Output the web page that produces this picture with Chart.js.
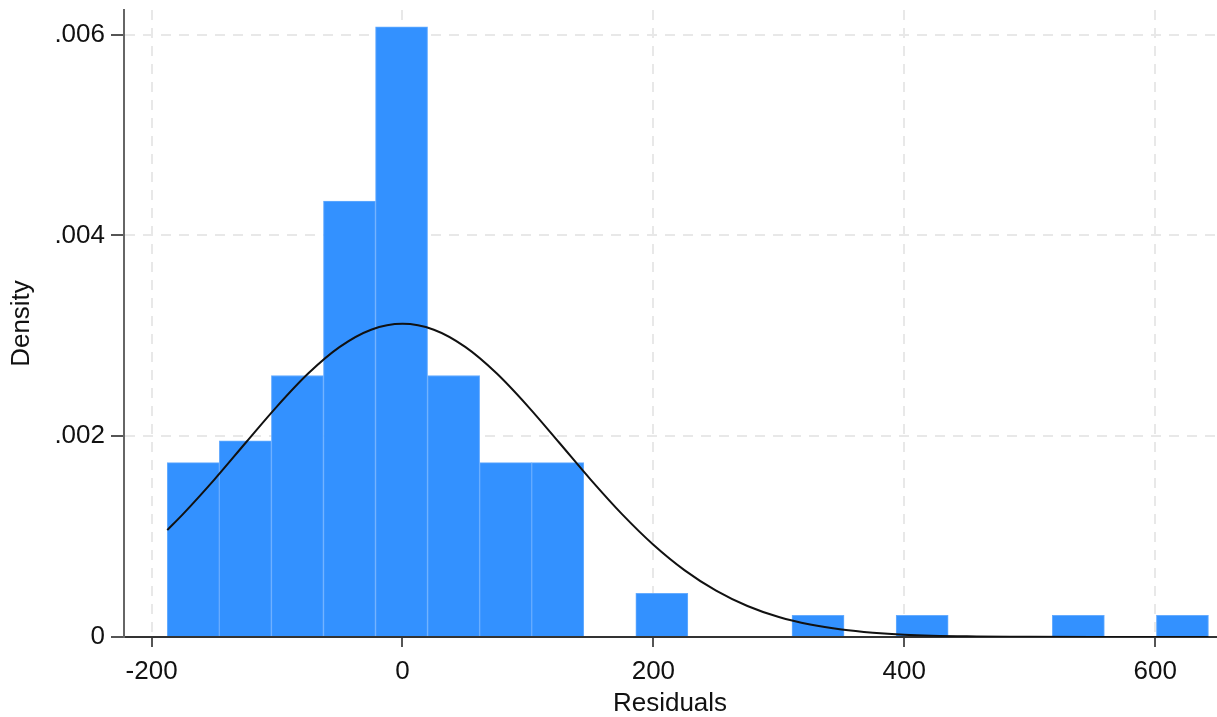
<!DOCTYPE html>
<html>
<head>
<meta charset="utf-8">
<script src="https://cdn.jsdelivr.net/npm/chart.js@4"></script>
<style>
html,body{margin:0;padding:0;background:#fff;}
#wrap{width:1217px;height:717px;}
</style>
</head>
<body>
<div id="wrap"><canvas id="c" width="1217" height="717"></canvas></div>
<script>
// Histogram bin centres (bin width 41.5) and densities
const binCenters = [-166.75, -125.25, -83.75, -42.25, -0.75, 40.75, 82.25, 123.75, 165.25, 206.75,
                    248.25, 289.75, 331.25, 372.75, 414.25, 455.75, 497.25, 538.75, 580.25, 621.75];
const densities  = [0.001737, 0.001954, 0.002605, 0.004342, 0.006079, 0.002605, 0.001737, 0.001737, 0, 0.000434,
                    0, 0, 0.000217, 0, 0.000217, 0, 0, 0.000217, 0, 0.000217];
// Normal density overlay
const curveX = [-187.5, -175, -150, -125, -100, -75, -50, -25, 0, 25, 50, 75, 100, 125, 150, 175,
                200, 225, 250, 275, 300, 325, 350, 375, 400, 450, 500, 550, 600, 642.5];
const curveY = [0.001065, 0.001224, 0.001568, 0.001935, 0.002298, 0.002627, 0.002890, 0.003061, 0.003120,
                0.003061, 0.002890, 0.002627, 0.002298, 0.001935, 0.001568, 0.001224, 0.000919, 0.000664,
                0.000462, 0.000309, 0.000199, 0.000124, 0.0000738, 0.0000424, 0.0000235, 0.0000064,
                0.0000015, 0.0000003, 0, 0];
const xTicks = [-200, 0, 200, 400, 600];
const yTicks = [0, 0.002, 0.004, 0.006];
const yTickLabels = ['0', '.002', '.004', '.006'];

const FONT = 'Liberation Sans, Arial, Helvetica, sans-serif';
const barData = binCenters.map((x, i) => ({x: x, y: densities[i]}));
const lineData = curveX.map((x, i) => ({x: x, y: curveY[i]}));

new Chart(document.getElementById('c'), {
  type: 'bar',
  data: {
    datasets: [
      {
        type: 'line',
        data: lineData,
        borderColor: '#111',
        borderWidth: 2,
        pointRadius: 0,
        fill: false,
        cubicInterpolationMode: 'monotone',
        order: 1
      },
      {
        type: 'bar',
        data: barData,
        backgroundColor: '#3391ff',
        borderColor: '#66acff',
        borderWidth: 1,
        borderSkipped: 'bottom',
        barPercentage: 1,
        categoryPercentage: 1,
        grouped: false,
        order: 2
      }
    ]
  },
  options: {
    responsive: false,
    animation: false,
    devicePixelRatio: 1,
    layout: {padding: {top: 10, right: 1, left: 0, bottom: 0}},
    plugins: {legend: {display: false}, tooltip: {enabled: false}},
    scales: {
      x: {
        type: 'linear',
        offset: false,
        min: -222,
        max: 648.5,
        afterBuildTicks: s => { s.ticks = xTicks.map(v => ({value: v})); },
        afterFit: s => { s.height = 80; s.paddingLeft = 0; s.paddingRight = 0; },
        ticks: {
          font: {family: FONT, size: 26},
          color: '#111',
          padding: 9,
          maxRotation: 0,
          autoSkip: false,
          callback: v => String(v)
        },
        grid: {
          offset: false,
          color: '#e8e8e8',
          lineWidth: 2,
          tickLength: 10,
          tickColor: '#555',
          tickWidth: 2,
          tickBorderDash: []
        },
        border: {display: true, color: '#333', width: 2, dash: [10, 8]},
        title: {
          display: true,
          text: 'Residuals',
          font: {family: FONT, size: 26, lineHeight: 1},
          color: '#111',
          padding: {top: 0, bottom: 0}
        }
      },
      y: {
        type: 'linear',
        min: 0,
        max: 0.006246,
        afterBuildTicks: s => { s.ticks = yTicks.map(v => ({value: v})); },
        afterFit: s => { s.width = 124; s.paddingTop = 0; s.paddingBottom = 0; },
        ticks: {
          font: {family: FONT, size: 26},
          color: '#111',
          padding: 6,
          autoSkip: false,
          callback: (v) => { const i = yTicks.indexOf(v); return i >= 0 ? yTickLabels[i] : ''; }
        },
        grid: {
          color: '#e8e8e8',
          lineWidth: 2,
          tickLength: 13,
          tickColor: '#555',
          tickWidth: 2,
          tickBorderDash: []
        },
        border: {display: true, color: '#666', width: 2, dash: [10, 8]},
        title: {
          display: true,
          text: 'Density',
          font: {family: FONT, size: 26, lineHeight: 1.2},
          color: '#111',
          padding: {top: 6, bottom: 0}
        }
      }
    }
  }
});
</script>
</body>
</html>
